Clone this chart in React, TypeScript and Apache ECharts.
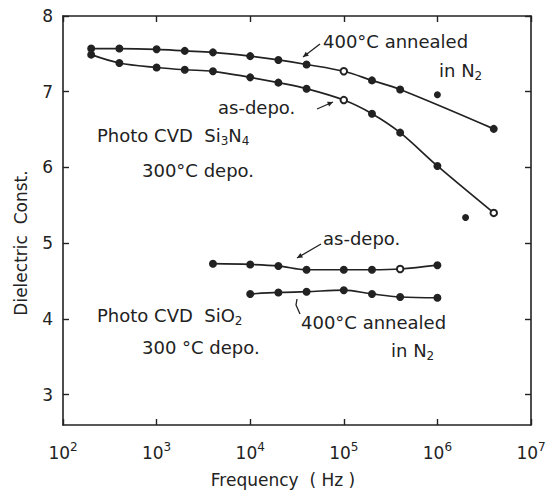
import React, { useEffect, useRef } from "react";
import * as echarts from "echarts";

// Si3N4, 400°C annealed in N2 (smooth curve points)
const sinAnnealedFreq = [200, 400, 1e3, 2e3, 4e3, 1e4, 2e4, 4e4, 1e5, 2e5, 4e5, 4e6];
const sinAnnealedVal = [7.57, 7.57, 7.56, 7.54, 7.52, 7.47, 7.42, 7.36, 7.27, 7.15, 7.03, 6.51];
const sinAnnealedOpen = [1e5];
const sinAnnealedStrayFreq = [1e6];
const sinAnnealedStrayVal = [6.96];

// Si3N4, as-deposited
const sinAsDepoFreq = [200, 400, 1e3, 2e3, 4e3, 1e4, 2e4, 4e4, 1e5, 2e5, 4e5, 1e6, 4e6];
const sinAsDepoVal = [7.49, 7.38, 7.32, 7.29, 7.27, 7.19, 7.12, 7.04, 6.89, 6.71, 6.46, 6.02, 5.4];
const sinAsDepoOpen = [1e5, 4e6];
const sinAsDepoStrayFreq = [2e6];
const sinAsDepoStrayVal = [5.34];

// SiO2, as-deposited
const sioAsDepoFreq = [4e3, 1e4, 2e4, 4e4, 1e5, 2e5, 4e5, 1e6];
const sioAsDepoVal = [4.73, 4.72, 4.7, 4.65, 4.65, 4.65, 4.66, 4.71];
const sioAsDepoOpen = [4e5];

// SiO2, 400°C annealed in N2
const sioAnnealedFreq = [1e4, 2e4, 4e4, 1e5, 2e5, 4e5, 1e6];
const sioAnnealedVal = [4.33, 4.35, 4.36, 4.38, 4.33, 4.29, 4.28];

const xTicks = [1e2, 1e3, 1e4, 1e5, 1e6, 1e7];
const yTicks = [3, 4, 5, 6, 7, 8];

const INK = "#222";
const FONT = "DejaVu Sans";

function pts(f: number[], v: number[], open: number[] = []) {
  return f.map((x, i) => ({
    value: [x, v[i]],
    symbol: open.includes(x) ? "emptyCircle" : "circle",
  }));
}

function lineSeries(f: number[], v: number[], open: number[] = []) {
  return {
    type: "line",
    data: pts(f, v, open),
    smooth: 0.35,
    symbolSize: 6.5,
    showAllSymbol: true,
    lineStyle: { color: INK, width: 1.7 },
    itemStyle: { color: INK, borderColor: INK, borderWidth: 1.5, opacity: 1 },
    z: 3,
  };
}

function strays(f: number[], v: number[]) {
  return {
    type: "scatter",
    data: f.map((x, i) => [x, v[i]]),
    symbolSize: 7,
    itemStyle: { color: INK, opacity: 1 },
    z: 3,
  };
}

const subRich = {
  n: { fontSize: 18, fontFamily: FONT, color: INK },
  s: { fontSize: 12, fontFamily: FONT, color: INK, padding: [12, 0, 0, 0] },
};

function txt(x: number, y: number, text: string) {
  return {
    type: "text",
    x,
    y,
    style: {
      text,
      fontSize: 18,
      fontFamily: FONT,
      fill: INK,
      verticalAlign: "middle",
      rich: subRich,
    },
  };
}

function arrow(x1: number, y1: number, x2: number, y2: number) {
  const a = Math.atan2(y2 - y1, x2 - x1);
  const L = 6;
  const w = 0.45;
  return [
    { type: "line", shape: { x1, y1, x2, y2 }, style: { stroke: INK, lineWidth: 1.3 } },
    {
      type: "polygon",
      shape: {
        points: [
          [x2, y2],
          [x2 - L * Math.cos(a - w), y2 - L * Math.sin(a - w)],
          [x2 - L * Math.cos(a + w), y2 - L * Math.sin(a + w)],
        ],
      },
      style: { fill: INK },
    },
  ];
}

export default function App() {
  const ref = useRef<HTMLDivElement>(null);
  useEffect(() => {
    if (!ref.current) return;
    const chart = echarts.init(ref.current, null, { renderer: "svg" });
    const axisLine = { show: true, lineStyle: { color: INK, width: 1.6 } };
    const tick = { show: true, inside: true, length: 6, lineStyle: { color: INK, width: 1.4 } };
    chart.setOption({
      animation: false,
      backgroundColor: "#fff",
      grid: { left: 63, right: 20, top: 16, bottom: 67 },
      xAxis: [
        {
          type: "log",
          logBase: 10,
          min: 1e2,
          max: 1e7,
          position: "bottom",
          axisLine,
          axisTick: { ...tick, customValues: xTicks },
          splitLine: { show: false },
          axisLabel: {
            customValues: xTicks,
            margin: 16,
            formatter: (v: number) => `{b|10}{s|${Math.round(Math.log10(v))}}`,
            rich: {
              b: { fontSize: 17, fontFamily: FONT, color: INK },
              s: { fontSize: 12, fontFamily: FONT, color: INK, padding: [0, 0, 12, 0] },
            },
          },
        },
        {
          type: "log",
          logBase: 10,
          min: 1e2,
          max: 1e7,
          position: "top",
          axisLine,
          axisTick: { ...tick, customValues: xTicks },
          axisLabel: { show: false },
          splitLine: { show: false },
        },
      ],
      yAxis: [
        {
          type: "value",
          min: 2.6,
          max: 8,
          position: "left",
          axisLine,
          axisTick: { ...tick, customValues: yTicks },
          splitLine: { show: false },
          axisLabel: {
            customValues: yTicks,
            margin: 10,
            fontSize: 17,
            fontFamily: FONT,
            color: INK,
          },
        },
        {
          type: "value",
          min: 2.6,
          max: 8,
          position: "right",
          axisLine,
          axisTick: { ...tick, customValues: yTicks },
          axisLabel: { show: false },
          splitLine: { show: false },
        },
      ],
      series: [
        lineSeries(sinAnnealedFreq, sinAnnealedVal, sinAnnealedOpen),
        strays(sinAnnealedStrayFreq, sinAnnealedStrayVal),
        lineSeries(sinAsDepoFreq, sinAsDepoVal, sinAsDepoOpen),
        strays(sinAsDepoStrayFreq, sinAsDepoStrayVal),
        lineSeries(sioAsDepoFreq, sioAsDepoVal, sioAsDepoOpen),
        lineSeries(sioAnnealedFreq, sioAnnealedVal),
      ],
      graphic: [
        txt(323, 41, "400°C annealed"),
        txt(439, 70, "{n|in N}{s|2}"),
        ...arrow(320, 44, 303, 57),
        txt(218, 107, "as-depo."),
        ...arrow(317, 109, 333, 102),
        txt(97, 135, "{n|Photo CVD  Si}{s|3}{n|N}{s|4}"),
        txt(142, 170, "300°C depo."),
        txt(323, 238, "as-depo."),
        ...arrow(321, 244, 297, 258),
        txt(97, 315, "{n|Photo CVD  SiO}{s|2}"),
        txt(142, 347, "300 °C depo."),
        { type: "polyline", shape: { points: [[297, 299], [296, 305], [300, 314]] }, style: { stroke: INK, lineWidth: 1.3, fill: "none" } },
        txt(301, 322, "400°C annealed"),
        txt(391, 350, "{n|in N}{s|2}"),
        {
          type: "text",
          x: 21,
          y: 243,
          rotation: Math.PI / 2,
          style: {
            text: "Dielectric  Const.",
            fontSize: 17,
            fontFamily: FONT,
            fill: INK,
            align: "center",
            verticalAlign: "middle",
          },
        },
        {
          type: "text",
          x: 283,
          y: 480,
          style: {
            text: "Frequency  ( Hz )",
            fontSize: 17,
            fontFamily: FONT,
            fill: INK,
            align: "center",
            verticalAlign: "middle",
          },
        },
      ],
    });
    return () => chart.dispose();
  }, []);
  return (
    <div
      ref={ref}
      style={{ position: "absolute", left: 0, top: 0, width: 551, height: 492 }}
    />
  );
}
